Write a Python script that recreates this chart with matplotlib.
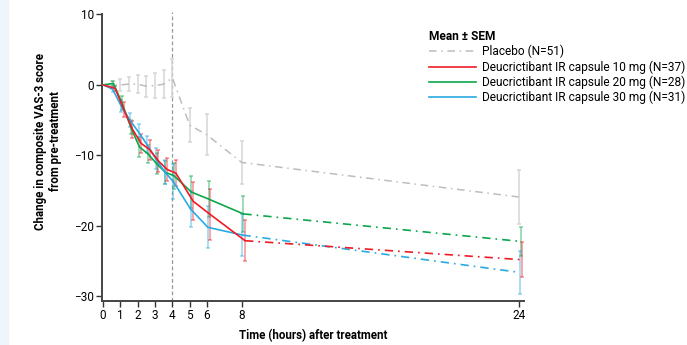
import matplotlib
matplotlib.use("Agg")
from matplotlib import pyplot as plt
from matplotlib.lines import Line2D
from matplotlib.patches import Rectangle

# time points (hours after treatment) and tick positions
hours = [0, 0.5, 1, 1.5, 2, 2.5, 3, 3.5, 4, 5, 6, 8, 24]
xticks = [0, 1, 2, 3, 4, 5, 6, 8, 24]
yticks = [10, 0, -10, -20, -30]

labels = ["Placebo (N=51)",
          "Deucrictibant IR capsule 10 mg (N=37)",
          "Deucrictibant IR capsule 20 mg (N=28)",
          "Deucrictibant IR capsule 30 mg (N=31)"]

# mean change and SEM
placebo = [0, 0.0, 0.0, 0.1, 0.1, -0.2, -0.1, 0.1, 1.0, -5.7, -7.1, -11.0, -15.9]
placebo_sem = [0, 0.6, 0.85, 1.0, 1.25, 1.45, 1.8, 2.0, 2.7, 2.4, 2.9, 3.0, 3.8]
dose10 = [0, -0.5, -3.5, -6.3, -8.3, -9.2, -10.8, -12.0, -12.5, -16.5, -18.4, -22.1, -24.8]
dose10_sem = [0, 0.4, 1.0, 1.2, 1.3, 1.4, 1.5, 1.6, 1.8, 2.7, 3.6, 2.9, 2.5]
dose20 = [0, 0.2, -2.6, -6.0, -8.8, -9.8, -11.2, -12.4, -12.9, -15.2, -16.2, -18.3, -22.2]
dose20_sem = [0, 0.3, 1.0, 1.0, 1.4, 1.3, 1.5, 1.6, 1.8, 2.3, 2.5, 2.6, 2.0]
dose30 = [0, -0.6, -3.0, -5.0, -6.7, -8.5, -10.5, -12.3, -13.7, -17.6, -20.2, -21.3, -26.6]
dose30_sem = [0, 0.4, 0.8, 1.0, 1.1, 1.2, 1.5, 1.7, 2.5, 2.6, 3.0, 3.0, 3.0]

plt.rcParams['font.family'] = ['Roboto', 'DejaVu Sans']
plt.rcParams['axes.unicode_minus'] = True

grey = '#bdbdbd'
red = '#ee1c25'
green = '#0ca64b'
blue = '#2aaae2'
dashdot = (0, (5, 3, 1, 3))

fig = plt.figure(figsize=(6.87, 3.45), dpi=100)
fig.patches.append(Rectangle((0, 0), 8 / 687, 1, transform=fig.transFigure,
                             color='#eef6fc', zorder=-10))
ax = fig.add_axes([102 / 687, 44 / 345, 422 / 687, 287 / 345])


def shifted(shift):
    return [t + shift if t > 0 else t for t in hours]


# placebo
ax.errorbar(hours[1:], placebo[1:], yerr=placebo_sem[1:], fmt='none',
            ecolor='#d6d6d6', elinewidth=1.1, capsize=1.5, capthick=1.1, zorder=1)
ax.plot(hours, placebo, color=grey, lw=1.1, ls=dashdot, zorder=2)

# active doses: solid to 8 h, dash-dot to 24 h
for mean, sem, c, shift in [(dose20, dose20_sem, green, 0.1),
                            (dose30, dose30_sem, blue, 0.05),
                            (dose10, dose10_sem, red, 0.2)]:
    x = shifted(shift)
    ax.errorbar(x[1:], mean[1:], yerr=sem[1:], fmt='none', ecolor=c, alpha=0.5,
                elinewidth=1.1, capsize=1.5, capthick=1.1, zorder=3)
    ax.plot(x[:12], mean[:12], color=c, lw=1.2, zorder=4)
    ax.plot(x[11:], mean[11:], color=c, lw=1.2, ls=dashdot, zorder=4)

ax.plot([4, 4], [-30.65, 10.4], color='#999999', lw=0.9, ls=(0, (3, 2)),
        clip_on=False, zorder=0)

ax.set_xlim(-0.06, 24.3)
ax.set_ylim(-30.65, 10.05)
ax.set_xticks(xticks)
ax.set_yticks(yticks)
ax.tick_params(labelsize=8.5, length=4, width=1, color='#333333', pad=2)
for s in ['top', 'right']:
    ax.spines[s].set_visible(False)
for s in ['left', 'bottom']:
    ax.spines[s].set_linewidth(1.4)
    ax.spines[s].set_color('#444444')
ax.spines['left'].set_bounds(-30.65, 10)

ax.set_xlabel('Time (hours) after treatment', fontsize=8.3, fontweight='bold', labelpad=5)
fig.text(48 / 687, 1 - 141 / 345, 'Change in composite VAS-3 score\nfrom pre-treatment',
         rotation=90, ha='center', va='center', fontsize=8.3, fontweight='bold')

handles = [Line2D([], [], color=grey, lw=1.1, ls=dashdot),
           Line2D([], [], color=red, lw=1.2),
           Line2D([], [], color=green, lw=1.2),
           Line2D([], [], color=blue, lw=1.2)]
fig.legend(handles, labels, loc='upper left', bbox_to_anchor=(429 / 687, 1 - 30 / 345),
           frameon=False, title='Mean ± SEM', alignment='left',
           title_fontproperties={'weight': 'bold', 'size': 8.6}, fontsize=8.6,
           handlelength=3.9, handletextpad=0.55, labelspacing=0.16,
           borderpad=0, borderaxespad=0)

fig.savefig('out.png', dpi=100)
